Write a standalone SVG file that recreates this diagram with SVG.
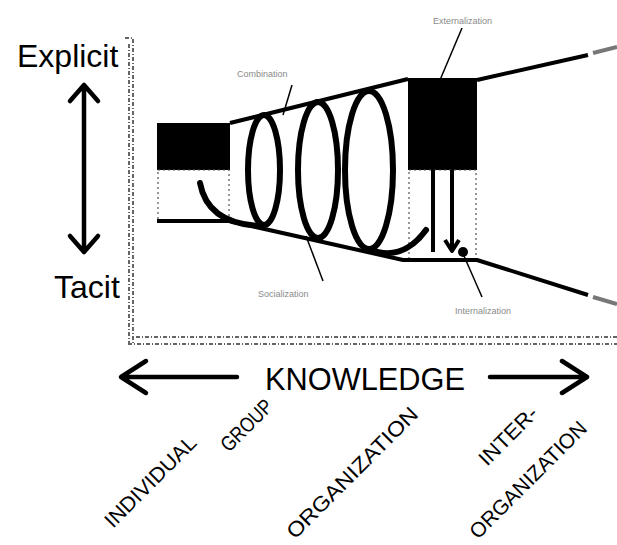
<svg xmlns="http://www.w3.org/2000/svg" width="617" height="545" viewBox="0 0 617 545">
  <style>
    .big { font-family: "Liberation Sans", Arial, sans-serif; fill: #000; }
    .axis { font-family: "Liberation Sans", Arial, sans-serif; font-size: 21px; fill: #000; }
    .mode { font-family: "Liberation Sans", Arial, sans-serif; font-size: 9px; fill: #8a8a8a; }
    .frame { fill: none; stroke: #333; stroke-width: 1.5; stroke-dasharray: 4 2 1 2; }
    .dots { fill: none; stroke: #555; stroke-width: 1.2; stroke-dasharray: 2 3; }
    .edge { fill: none; stroke: #000; stroke-width: 4; stroke-linejoin: round; }
    .faded { fill: none; stroke: #777; stroke-width: 4; }
    .coil { fill: none; stroke: #000; stroke-width: 6; stroke-linecap: round; }
    .leader { fill: none; stroke: #000; stroke-width: 1.5; }
    .arrow { fill: none; stroke: #000; stroke-width: 4.5; stroke-linecap: round; stroke-linejoin: round; }
  </style>

  <!-- vertical axis: explicit / tacit -->
  <g id="vertical-axis">
    <text class="big" x="17" y="67" font-size="32">Explicit</text>
    <text class="big" x="54" y="298" font-size="32">Tacit</text>
    <path class="arrow" d="M84 86 V250 M70 101 L84 85 L98 101 M70 236 L84 252 L98 236"/>
  </g>

  <!-- dotted frame -->
  <g id="frame">
    <path class="frame" d="M125 38 H133 V343"/>
    <path class="frame" d="M129 44 V343"/>
    <path class="frame" d="M136 337 H617"/>
    <path class="frame" d="M128 344 H617"/>
  </g>

  <!-- individual stage -->
  <g id="individual">
    <rect x="157" y="123" width="73" height="47" fill="#000"/>
    <rect class="dots" x="158" y="170" width="71" height="51"/>
  </g>

  <!-- externalization block -->
  <g id="externalization-block">
    <rect x="408" y="78" width="69" height="92" fill="#000"/>
    <rect class="dots" x="409" y="170" width="67" height="90"/>
  </g>

  <!-- funnel, coil and arrows -->
  <g id="connectors">
    <path class="edge" d="M230 123 L408 79"/>
    <path class="edge" d="M477 80 L588 55"/>
    <path class="faded" d="M593 53 L617 47"/>
    <path class="edge" d="M157 221 H229 L403 260 H477 L588 295"/>
    <path class="faded" d="M593 297 L617 304"/>

    <!-- spiral -->
    <path class="coil" d="M200 183 C205 210 225 225 262 226"/>
    <ellipse class="coil" cx="264" cy="170" rx="16" ry="55"/>
    <ellipse class="coil" cx="318" cy="170" rx="20" ry="68"/>
    <ellipse class="coil" cx="369" cy="170" rx="24" ry="79"/>
    <path class="coil" d="M369 249 C390 258 410 252 426 230"/>

    <!-- internalization arrows -->
    <path class="edge" d="M433 170 V252" stroke-width="3"/>
    <path class="edge" d="M452 170 V250" stroke-width="3"/>
    <path class="edge" d="M445 240 L452 251 L459 240" stroke-width="3"/>
    <circle cx="463" cy="252" r="5" fill="#000"/>

    <!-- leaders -->
    <path class="leader" d="M292 85 L283 115"/>
    <path class="leader" d="M462 28 L440 80"/>
    <path class="leader" d="M306 236 L323 281"/>
    <path class="leader" d="M464 256 L482 297"/>
  </g>

  <!-- SECI mode labels -->
  <g id="labels">
    <text class="mode" x="237" y="77">Combination</text>
    <text class="mode" x="433" y="24">Externalization</text>
    <text class="mode" x="258" y="297">Socialization</text>
    <text class="mode" x="455" y="314">Internalization</text>
  </g>

  <!-- horizontal axis -->
  <g id="knowledge-axis">
    <path class="arrow" d="M122 377 H237 M146 361 L121 377 L146 393"/>
    <text class="big" x="265" y="390" font-size="31" textLength="200" lengthAdjust="spacingAndGlyphs">KNOWLEDGE</text>
    <path class="arrow" d="M490 377 H586 M562 361 L587 377 L562 393" stroke-width="6"/>
  </g>

  <!-- level labels -->
  <g id="levels">
    <text class="axis" transform="translate(113 529) rotate(-45)" textLength="120" lengthAdjust="spacingAndGlyphs">INDIVIDUAL</text>
    <text class="axis" transform="translate(229 453) rotate(-45)" textLength="64" lengthAdjust="spacingAndGlyphs">GROUP</text>
    <text class="axis" transform="translate(295 540) rotate(-45)" textLength="176" lengthAdjust="spacingAndGlyphs">ORGANIZATION</text>
    <text class="axis" transform="translate(487 467) rotate(-45)" textLength="74" lengthAdjust="spacingAndGlyphs">INTER-</text>
    <text class="axis" transform="translate(478 540) rotate(-45)" textLength="156" lengthAdjust="spacingAndGlyphs">ORGANIZATION</text>
  </g>
</svg>
